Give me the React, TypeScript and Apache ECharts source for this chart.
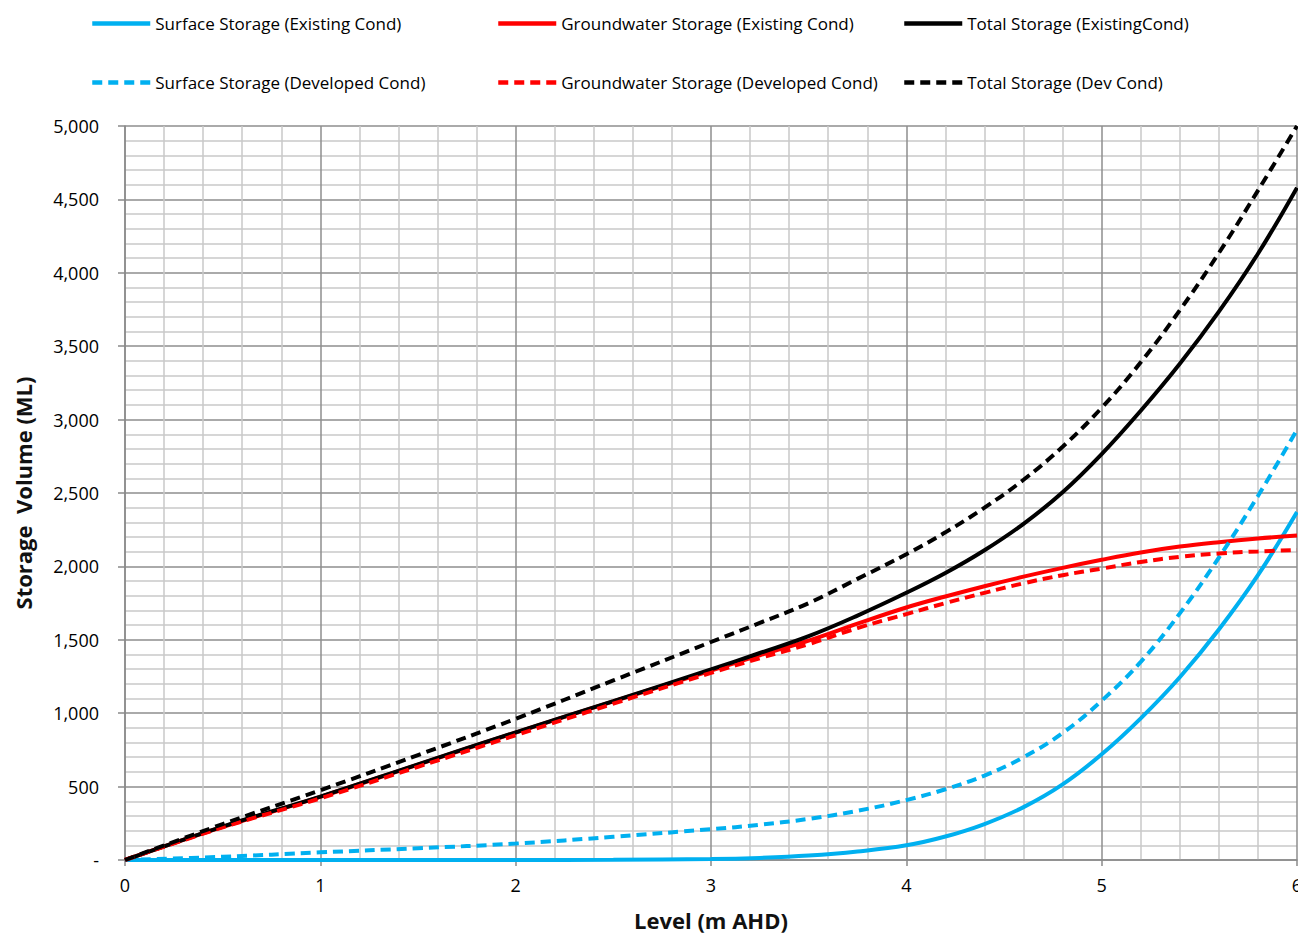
import React, { useEffect, useRef } from "react";
import * as echarts from "echarts";

const levels = [0, 0.5, 1, 1.5, 2, 2.5, 3, 3.25, 3.5, 3.75, 4, 4.2, 4.4, 4.6, 4.8, 5, 5.2, 5.4, 5.6, 5.8, 6];

const surfaceExisting = [0, 0, 0, 0, 0, 1, 6, 14, 30, 58, 100, 160, 245, 360, 515, 720, 965, 1245, 1570, 1940, 2370];
const groundwaterExisting = [0, 225, 430, 650, 868, 1080, 1290, 1395, 1495, 1610, 1720, 1795, 1865, 1930, 1990, 2045, 2095, 2135, 2165, 2190, 2210];
const totalExisting = [0, 228, 432, 652, 870, 1082, 1298, 1410, 1525, 1665, 1820, 1955, 2110, 2290, 2505, 2765, 3060, 3380, 3735, 4130, 4580];

const surfaceDeveloped = [0, 22, 52, 80, 112, 158, 210, 240, 280, 335, 408, 482, 575, 700, 865, 1085, 1350, 1680, 2060, 2480, 2930];
const groundwaterDeveloped = [0, 222, 420, 635, 850, 1065, 1275, 1375, 1470, 1580, 1675, 1750, 1820, 1885, 1940, 1985, 2030, 2065, 2088, 2102, 2112];
const totalDeveloped = [0, 245, 475, 715, 962, 1223, 1485, 1615, 1750, 1915, 2083, 2232, 2400, 2590, 2815, 3080, 3390, 3745, 4135, 4560, 5000];

const names = [
  "Surface Storage (Existing Cond)",
  "Groundwater Storage (Existing Cond)",
  "Total Storage (ExistingCond)",
  "Surface Storage (Developed Cond)",
  "Groundwater Storage (Developed Cond)",
  "Total Storage (Dev Cond)",
];

const FONT = "Open Sans";

export default function App() {
  const ref = useRef<HTMLDivElement>(null);

  useEffect(() => {
    if (!ref.current) return;
    const chart = echarts.init(ref.current, undefined, { renderer: "svg" });

    const mk = (vals: number[]) => levels.map((x, i) => [x, vals[i]]);
    const dash = [10, 6];
    const seriesDefs = [
      { name: names[0], data: surfaceExisting, color: "#00B0F0", type: "solid" },
      { name: names[1], data: groundwaterExisting, color: "#FF0000", type: "solid" },
      { name: names[2], data: totalExisting, color: "#000000", type: "solid" },
      { name: names[3], data: surfaceDeveloped, color: "#00B0F0", type: dash },
      { name: names[4], data: groundwaterDeveloped, color: "#FF0000", type: dash },
      { name: names[5], data: totalDeveloped, color: "#000000", type: dash },
    ];

    const legendPos = [
      [90, 15], [496, 15], [902, 15],
      [90, 74], [496, 74], [902, 74],
    ];

    const option: any = {
      animation: false,
      backgroundColor: "#ffffff",
      textStyle: { fontFamily: FONT },
      legend: names.map((n, i) => ({
        data: [n],
        left: legendPos[i][0],
        top: legendPos[i][1],
        padding: 0,
        itemWidth: 58,
        itemHeight: 14,
        selectedMode: false,
        lineStyle: { width: 4.5 },
        itemStyle: { opacity: 0, color: "rgba(0,0,0,0)", borderColor: "rgba(0,0,0,0)", borderWidth: 0 },
        textStyle: { fontFamily: FONT, fontSize: 17, color: "#000" },
      })),
      grid: { left: 125, right: 1, top: 126, bottom: 75, containLabel: false, outerBoundsMode: "none" },
      xAxis: {
        type: "value",
        min: 0,
        max: 6,
        interval: 1,
        name: "Level (m AHD)",
        nameLocation: "middle",
        nameGap: 49,
        nameTextStyle: { fontFamily: FONT, fontSize: 22, fontWeight: "bold", color: "#111" },
        axisLine: { show: true, onZero: false, lineStyle: { color: "#8a8a8a", width: 1.5 } },
        axisTick: { show: true, length: 6, lineStyle: { color: "#8a8a8a", width: 1.5 } },
        axisLabel: { fontFamily: FONT, fontSize: 18, color: "#000", margin: 16 },
        splitLine: { show: true, lineStyle: { color: "#8e8e8e", width: 1.5 } },
        minorTick: { show: false, splitNumber: 5 },
        minorSplitLine: { show: true, lineStyle: { color: "#c8c8c8", width: 1.5 } },
      },
      yAxis: {
        type: "value",
        min: 0,
        max: 5000,
        interval: 500,
        name: "Storage  Volume (ML)",
        nameLocation: "middle",
        nameGap: 91,
        nameTextStyle: { fontFamily: FONT, fontSize: 22, fontWeight: "bold", color: "#111" },
        axisLine: { show: true, lineStyle: { color: "#8a8a8a", width: 1.5 } },
        axisTick: { show: true, length: 7, lineStyle: { color: "#8a8a8a", width: 1.5 } },
        axisLabel: {
          fontFamily: FONT,
          fontSize: 18,
          color: "#000",
          margin: 26,
          formatter: (v: number) => (v === 0 ? "-" : v.toLocaleString("en-US")),
        },
        splitLine: { show: true, lineStyle: { color: "#8e8e8e", width: 1.5 } },
        minorTick: { show: false, splitNumber: 5 },
        minorSplitLine: { show: true, lineStyle: { color: "#c8c8c8", width: 1.5 } },
      },
      series: seriesDefs.map((s) => ({
        name: s.name,
        type: "line",
        data: mk(s.data),
        smooth: 0.4,
        symbol: "none",
        showSymbol: false,
        color: s.color,
        lineStyle: { color: s.color, width: 4, type: s.type, cap: "butt" },
        emphasis: { disabled: true },
      })),
    };

    chart.setOption(option);
    return () => chart.dispose();
  }, []);

  return (
    <div
      ref={ref}
      style={{ position: "fixed", left: 0, top: 0, width: 1298, height: 935 }}
    />
  );
}
